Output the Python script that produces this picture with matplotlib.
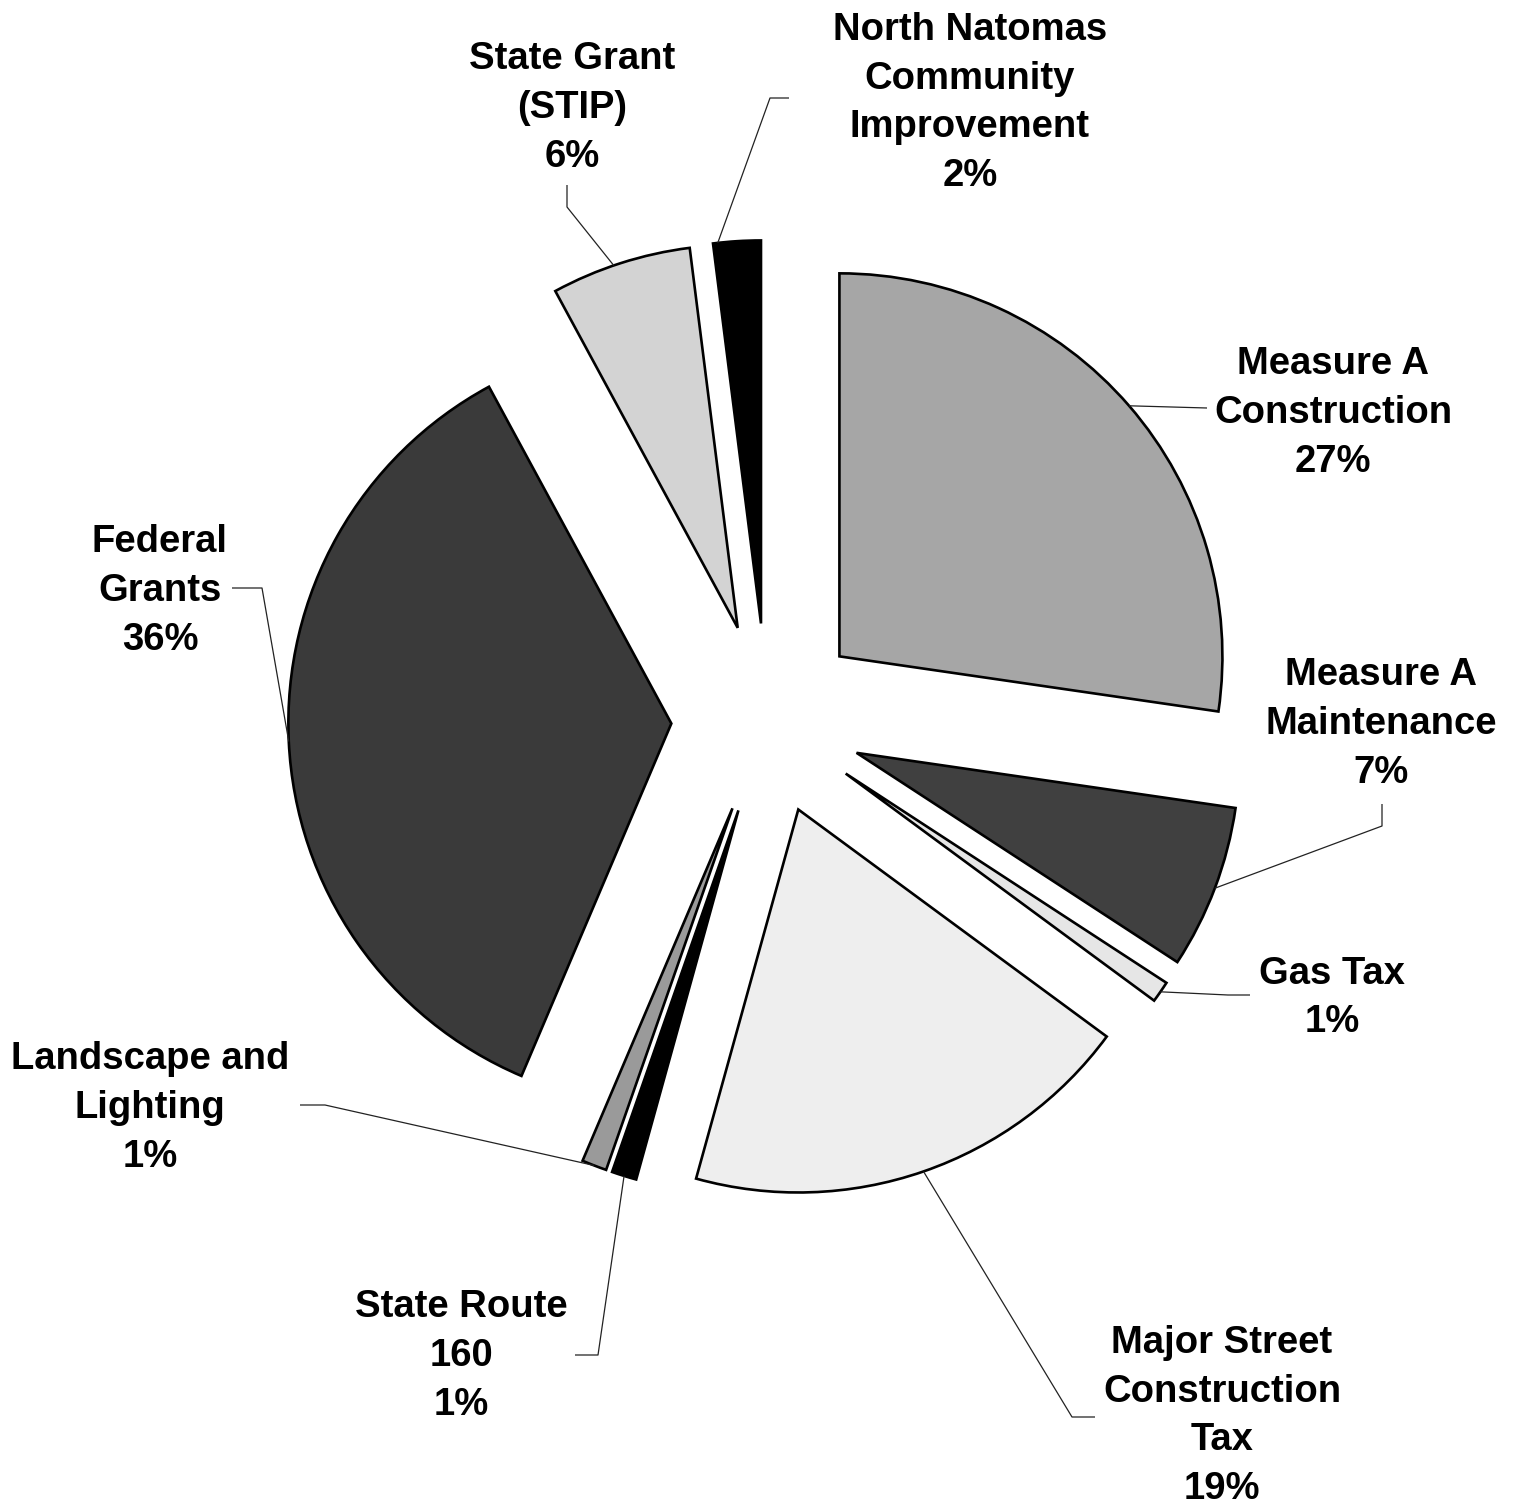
import numpy as np
import matplotlib
matplotlib.use("Agg")
import matplotlib.pyplot as plt

W, H = 1518, 1508

# ---- data (clockwise from 12 o'clock) ----
categories = ["Measure A\nConstruction", "Measure A\nMaintenance", "Gas Tax",
              "Major Street\nConstruction\nTax", "State Route\n160",
              "Landscape and\nLighting", "Federal\nGrants", "State Grant\n(STIP)",
              "North Natomas\nCommunity\nImprovement"]
shares = [27.3, 6.9, 0.9, 19.2, 1.05, 1.05, 35.7, 5.9, 2.0]
pct_labels = ["27%", "7%", "1%", "19%", "1%", "1%", "36%", "6%", "2%"]
colors = ["#a6a6a6", "#404040", "#e6e6e6", "#eeeeee", "#000000",
          "#9a9a9a", "#3a3a3a", "#d3d3d3", "#000000"]

# ---- layout (pixel coordinates, y measured from top) ----
RADIUS = 383
EXPLODE_FRAC = 0.25
label_pos = [(1333, 413), (1381, 724), (1332, 998), (1222, 1416), (461, 1356),
             (150, 1108), (160, 591), (572, 108), (970, 103)]
# elbow points of leader lines (from anchor on arc -> ... -> near label)
leader_pts = [
    [(1207, 408)],
    [(1382, 826), (1382, 804)],
    [(1228, 995), (1250, 995)],
    [(1072, 1417), (1095, 1417)],
    [(598, 1355), (575, 1355)],
    [(325, 1105), (300, 1105)],
    [(262, 588), (232, 588)],
    [(567, 207), (567, 185)],
    [(770, 98), (789, 98)],
]
anchor_frac = [0.5, 0.5, 0.5, 0.5, 0.5, 0.5, 0.5, 0.45, 0.1]


def P(x, y):
    return x, H - y


fig = plt.figure(figsize=(W / 100, H / 100), dpi=100)
ax = fig.add_axes([0, 0, 1, 1])

wedges, _ = ax.pie(shares, colors=colors, startangle=90, counterclock=False,
                   explode=[EXPLODE_FRAC * RADIUS] * len(shares), radius=RADIUS,
                   center=P(767, 719),
                   wedgeprops=dict(edgecolor="black", linewidth=1.9),
                   frame=False)
ax.set_xlim(0, W)
ax.set_ylim(0, H)
ax.set_aspect("equal")
ax.axis("off")

for i, w in enumerate(wedges):
    t1, t2 = w.theta1, w.theta2
    # clockwise: theta2 is the start
    ang = np.deg2rad(t2 - anchor_frac[i] * (t2 - t1))
    cx, cy = w.center
    ax_x = cx + w.r * np.cos(ang)
    ax_y = cy + w.r * np.sin(ang)
    xs = [ax_x] + [P(*p)[0] for p in leader_pts[i]]
    ys = [ax_y] + [P(*p)[1] for p in leader_pts[i]]
    ax.plot(xs, ys, color="#222222", lw=0.9, solid_capstyle="butt")
    lx, ly = P(*label_pos[i])
    ax.text(lx, ly, categories[i] + "\n" + pct_labels[i], ha="center", va="center",
            multialignment="center", fontsize=27.5, fontweight="bold",
            family="Liberation Sans", linespacing=1.46, color="black")

fig.savefig("out.png", dpi=100, facecolor="white")
